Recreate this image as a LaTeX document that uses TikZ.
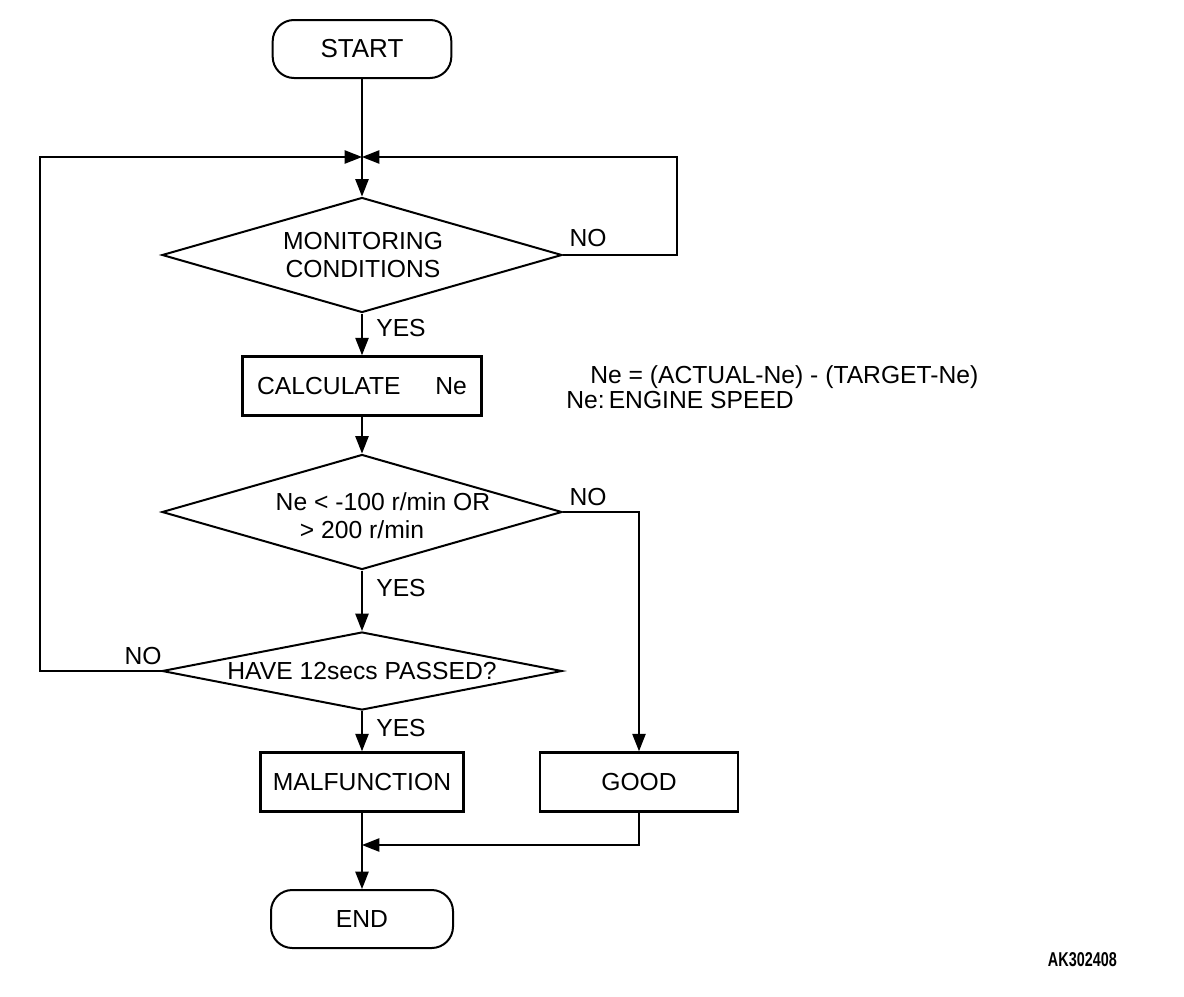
\documentclass[tikz,border=0pt]{standalone}
\usepackage{fontspec}
\setmainfont{Liberation Sans}
\usetikzlibrary{shapes.geometric,arrows.meta}
\begin{document}
\begin{tikzpicture}[x=0.75pt,y=-0.75pt,
  font=\fontsize{18.5}{21}\selectfont,
  term/.style={draw,line width=1.5pt,rounded corners=16pt,minimum width=#1,minimum height=43.5pt,inner sep=0pt},
  proc/.style={draw,line width=2.2pt,minimum height=44pt,minimum width=#1,inner sep=0pt},
  dec/.style={draw,diamond,line width=1.5pt,minimum width=300pt,minimum height=#1,inner sep=0pt},
  txt/.style={inner sep=0pt,align=center},
  lbl/.style={inner sep=0pt},
  line/.style={line width=1pt},
  arr/.style={line width=1pt,-{Triangle[length=13pt,width=10pt]}}]
\useasboundingbox (0,0) rectangle (1184,996);
% nodes
\node[term=134pt,font=\fontsize{19.5}{22}\selectfont] (start) at (362,49) {START};
\coordinate (j) at (362,157);
\node[dec=86.25pt] (d1) at (362,255) {};
\node[txt] (d1t) at (363,255) {MONITORING\\CONDITIONS};
\node[proc=179.25pt] (calc) at (362,386) {CALCULATE\hspace{26pt}Ne};
\node[dec=86.25pt] (d2) at (362,512) {};
\node[txt] (d2a) at (383,502) {Ne < -100 r/min OR};
\node[txt] (d2b) at (362,530) {> 200 r/min};
\node[dec=58.5pt] (d3) at (362,671) {};
\node[txt] (d3t) at (362,671) {HAVE 12secs PASSED?};
\node[proc=152.25pt] (malf) at (362,782) {MALFUNCTION};
\node[proc=148.5pt] (good) at (639,782) {GOOD};
\node[term=136.5pt] (end) at (362,919) {END};
\coordinate (mj) at (362,845);
\coordinate (rt) at (677,157);
\coordinate (lf) at (40,671);
% labels
\node[lbl] (no1) at (588,238) {NO};
\node[lbl] (yes1) at (401,328) {YES};
\node[lbl] (no2) at (588,497) {NO};
\node[lbl] (yes2) at (401,588) {YES};
\node[lbl] (no3) at (143,656) {NO};
\node[lbl] (yes3) at (401,728) {YES};
\node[lbl,anchor=west] (n1) at (590,377) {Ne = (ACTUAL-Ne) - (TARGET-Ne)};
\node[lbl,anchor=west] (n2) at (566,400) {Ne:\,ENGINE SPEED};
\node[lbl,anchor=east,xscale=0.72,font=\fontsize{15}{17}\selectfont\bfseries] (code) at (1117,960) {AK302408};
% connectors
\draw[line] (start.south) -- (j);
\draw[arr] (j) -- (d1.north);
\draw[arr] (d1.east) -| (rt) -- (j);
\draw[arr] (d1.south) -- (calc.north);
\draw[arr] (calc.south) -- (d2.north);
\draw[arr] (d2.east) -| (good.north);
\draw[arr] (d2.south) -- (d3.north);
\draw[arr] (d3.west) -- (lf) |- (j);
\draw[arr] (d3.south) -- (malf.north);
\draw[arr] (malf.south) -- (end.north);
\draw[arr] (good.south) |- (mj);
\end{tikzpicture}
\end{document}
